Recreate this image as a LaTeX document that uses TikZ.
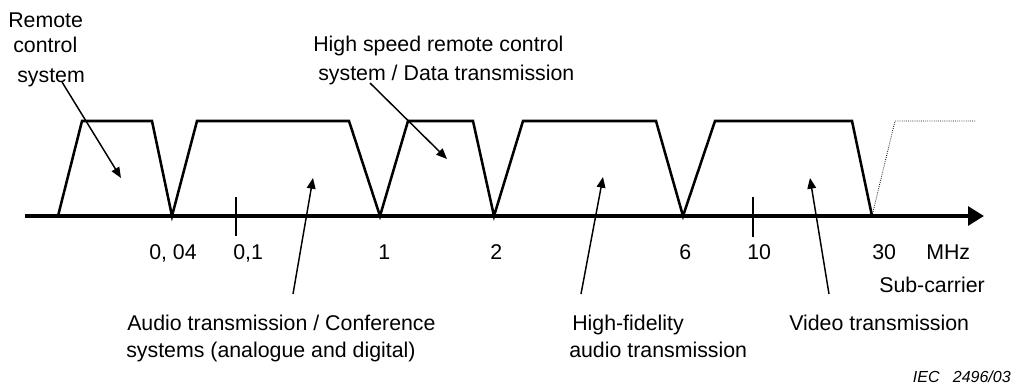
\documentclass[tikz,border=0pt]{standalone}
\usepackage{fontspec}
\setmainfont{Liberation Sans}
\usetikzlibrary{arrows.meta}
\begin{document}
\begin{tikzpicture}[x=0.75pt,y=-0.75pt,
 lbl/.style={anchor=base west,inner sep=0pt,font=\fontsize{16}{19}\selectfont},
 band/.style={line width=1.9pt,line join=miter},
 pointer/.style={line width=1.1pt,-{Triangle[length=8pt,width=6.5pt]}},
 tickmark/.style={line width=1.5pt},
 axisline/.style={line width=3pt,-{Triangle[length=12pt,width=14pt]}}]
\useasboundingbox (0,0) rectangle (1014,390);
% axis
\coordinate (a0) at (25,216);
\coordinate (a1) at (984,216);
% bands
\draw[band] (58,216) -- (82,121) -- (152,121) -- (172,216) -- (197,121) -- (349,121) -- (380,216)
  -- (408,121) -- (473,121) -- (494,216) -- (523,121) -- (656,121) -- (683,216)
  -- (715,121) -- (852,121) -- (872,216);
\draw[line width=0.6pt,densely dotted] (872,216) -- (895,121) -- (976,121);
\draw[axisline] (a0) -- (a1);
% ticks
\coordinate (t1a) at (236,197); \coordinate (t1b) at (236,236);
\coordinate (t2a) at (753,197); \coordinate (t2b) at (753,237);
\draw[tickmark] (t1a) -- (t1b);
\draw[tickmark] (t2a) -- (t2b);
% top labels
\node[lbl] (rc1) at (8,27) {Remote};
\node[lbl] (rc2) at (13,52) {control};
\node[lbl] (rc3) at (17,82) {system};
\node[lbl] (hs1) at (313,51) {High speed remote control};
\node[lbl] (hs2) at (318,80) {system / Data transmission};
% axis labels
\node[lbl] (n004) at (149,259) {0, 04};
\node[lbl] (n01) at (233,259) {0,1};
\node[lbl] (n1) at (378,259) {1};
\node[lbl] (n2) at (490,259) {2};
\node[lbl] (n6) at (679,259) {6};
\node[lbl] (n10) at (747,259) {10};
\node[lbl] (n30) at (872,259) {30};
\node[lbl] (mhz) at (926,259) {MHz};
\node[lbl] (sub) at (879,292) {Sub-carrier};
% bottom labels
\node[lbl] (au1) at (127,330) {Audio transmission / Conference};
\node[lbl] (au2) at (126,357) {systems (analogue and digital)};
\node[lbl] (hf1) at (572,330) {High-fidelity};
\node[lbl] (hf2) at (569,357) {audio transmission};
\node[lbl] (vid) at (789,330) {Video transmission};
\node[anchor=base east,inner sep=0pt,font=\fontsize{12}{14}\selectfont\itshape] (iec) at (1011,382) {IEC\ \ \ 2496/03};
% pointers
\coordinate (p1s) at (62,82);   \coordinate (p1e) at (121,178);
\coordinate (p2s) at (293,294); \coordinate (p2e) at (313,178);
\coordinate (p3s) at (370,83);  \coordinate (p3e) at (447,159);
\coordinate (p4s) at (581,294); \coordinate (p4e) at (603,177);
\coordinate (p5s) at (829,294); \coordinate (p5e) at (810,178);
\draw[pointer] (p1s) -- (p1e);
\draw[pointer] (p2s) -- (p2e);
\draw[pointer] (p3s) -- (p3e);
\draw[pointer] (p4s) -- (p4e);
\draw[pointer] (p5s) -- (p5e);
\end{tikzpicture}
\end{document}
